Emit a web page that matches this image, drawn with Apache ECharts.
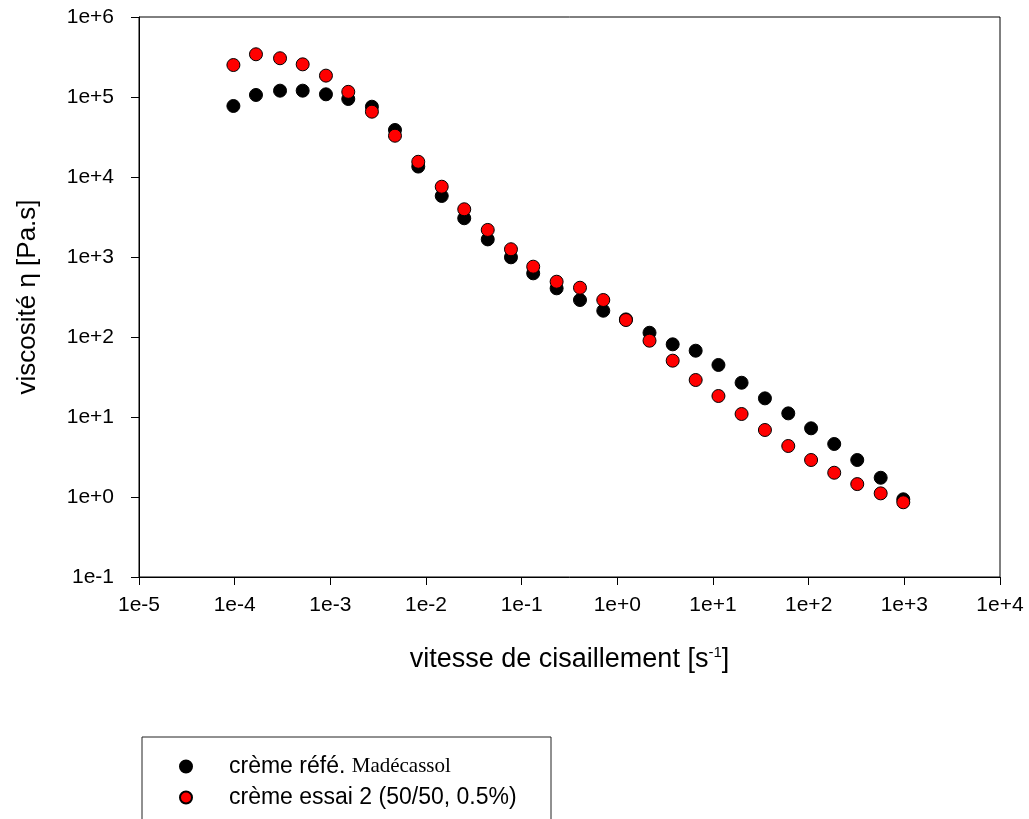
<!DOCTYPE html>
<html>
<head>
<meta charset="utf-8">
<title>viscosité</title>
<script src="https://cdn.jsdelivr.net/npm/echarts@6/dist/echarts.min.js"></script>
<style>
  html, body { margin: 0; padding: 0; background: #fff; }
  #chart { width: 1029px; height: 819px; }
</style>
</head>
<body>
<div id="chart"></div>
<script>
// vitesse de cisaillement (s-1)
const shearRate = [
  9.7e-5, 1.67e-4, 2.98e-4, 5.14e-4, 9.0e-4, 1.54e-3, 2.72e-3, 4.74e-3, 8.3e-3, 1.46e-2,
  2.51e-2, 4.42e-2, 7.73e-2, 0.132, 0.232, 0.407, 0.713, 1.23, 2.17, 3.79,
  6.59, 11.4, 19.9, 34.9, 61.2, 106, 185, 322, 566, 975
]
// crème de référence
const viscoRef = [
  7.72e4, 1.06e5, 1.2e5, 1.2e5, 1.08e5, 9.44e4, 7.56e4, 3.87e4, 1.35e4, 5790,
  3050, 1660, 991, 625, 406, 290, 213, 166, 113, 81,
  67.4, 44.7, 26.8, 17.1, 11.1, 7.22, 4.6, 2.9, 1.74, 0.936
]
// crème essai 2
const viscoEssai = [
  2.51e5, 3.42e5, 3.05e5, 2.56e5, 1.85e5, 1.16e5, 6.55e4, 3.28e4, 1.55e4, 7560,
  3950, 2180, 1250, 757, 491, 413, 290, 163, 89.9, 50.6,
  29, 18.3, 10.9, 6.88, 4.34, 2.9, 2.01, 1.45, 1.11, 0.859
]
const seriesNames = ['crème réfé. Madécassol', 'crème essai 2 (50/50, 0.5%)']

const chart = echarts.init(document.getElementById('chart'))

// 1e-5, 1e+0, 1e+3 ...
function expLabel(v) {
  let e = Math.round(Math.log10(v))
  return '1e' + (e >= 0 ? '+' : '') + e
}

function pairs(xs, ys) {
  let out = []
  for (let i = 0; i < xs.length; i++) {
    out.push([xs[i], ys[i]])
  }
  return out
}

const font = 'Liberation Sans, Arial, sans-serif'

chart.setOption({
  animation: false,
  backgroundColor: '#fff',
  grid: {
    left: 139,
    right: 29,
    top: 17,
    bottom: 242,
    show: true,
    borderColor: '#000',
    borderWidth: 1
  },
  // cadre de la légende
  graphic: [{
    type: 'rect',
    shape: { x: 142, y: 737, width: 409, height: 100 },
    style: { fill: 'none', stroke: '#222', lineWidth: 1 }
  }],
  legend: {
    orient: 'vertical',
    left: 174,
    top: 750,
    itemGap: 8,
    itemWidth: 12,
    itemHeight: 12,
    icon: 'circle',
    data: seriesNames,
    formatter: name => {
      if (name === seriesNames[0]) return '{a|crème réfé. }{b|Madécassol}'
      return '{a|' + name + '}'
    },
    textStyle: {
      padding: [0, 0, 0, 32],
      rich: {
        a: { fontFamily: font, fontSize: 23, color: '#000', lineHeight: 25 },
        b: { fontFamily: 'Liberation Serif, Times New Roman, serif', fontSize: 21, color: '#000', lineHeight: 25 }
      }
    }
  },
  xAxis: {
    type: 'log',
    logBase: 10,
    min: 1e-5,
    max: 1e4,
    splitNumber: 9,
    name: '{t|vitesse de cisaillement [s}{s|-1}{t|]}',
    nameLocation: 'middle',
    nameGap: 68,
    nameTextStyle: {
      rich: {
        t: { fontFamily: font, fontSize: 27, color: '#000', lineHeight: 30 },
        s: { fontFamily: font, fontSize: 15, color: '#000', verticalAlign: 'top', lineHeight: 30 }
      }
    },
    axisLine: { lineStyle: { color: '#000', width: 1 } },
    axisTick: { length: 8, lineStyle: { color: '#000' } },
    minorTick: { show: false },
    splitLine: { show: false },
    axisLabel: {
      formatter: expLabel,
      fontFamily: font,
      fontSize: 21,
      color: '#000',
      margin: 18
    }
  },
  yAxis: {
    type: 'log',
    logBase: 10,
    min: 0.1,
    max: 1e6,
    splitNumber: 7,
    name: 'viscosité η [Pa.s]',
    nameLocation: 'middle',
    nameGap: 98,
    nameTextStyle: { fontFamily: font, fontSize: 26, color: '#000' },
    axisLine: { show: true, lineStyle: { color: '#000', width: 1 } },
    axisTick: { show: true, length: 8, lineStyle: { color: '#000' } },
    splitLine: { show: false },
    axisLabel: {
      formatter: expLabel,
      fontFamily: font,
      fontSize: 21,
      color: '#000',
      margin: 25
    }
  },
  series: [
    {
      name: seriesNames[0],
      type: 'scatter',
      symbol: 'circle',
      symbolSize: 13,
      itemStyle: { color: '#000', borderColor: '#000', borderWidth: 1, opacity: 1 },
      data: pairs(shearRate, viscoRef)
    },
    {
      name: seriesNames[1],
      type: 'scatter',
      symbol: 'circle',
      symbolSize: 13,
      itemStyle: { color: '#ff0000', borderColor: '#000', borderWidth: 1, opacity: 1 },
      data: pairs(shearRate, viscoEssai)
    }
  ]
})
</script>
</body>
</html>
